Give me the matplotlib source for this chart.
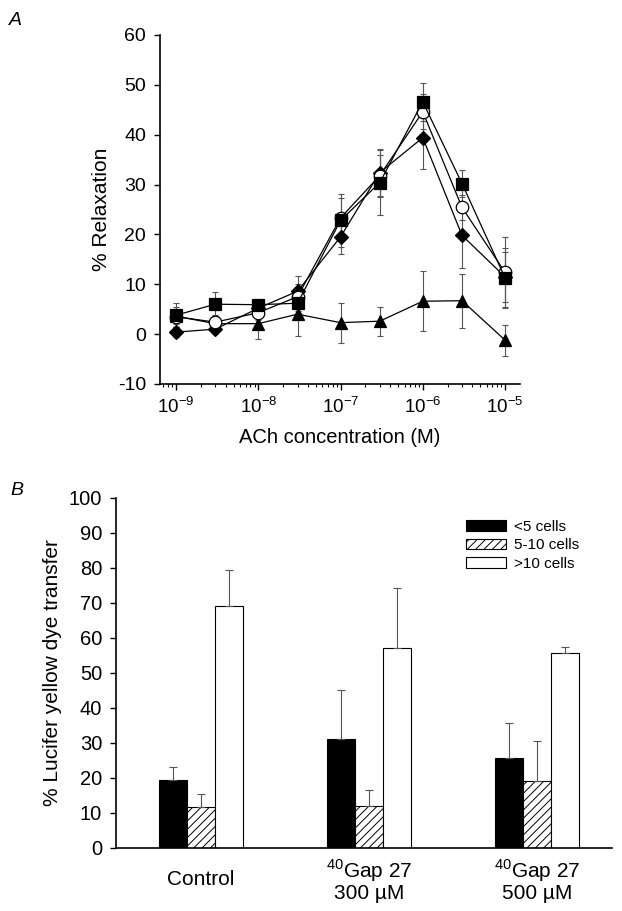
import numpy as np
import matplotlib
matplotlib.use("Agg")
import matplotlib.pyplot as plt
from matplotlib.ticker import LogLocator, MultipleLocator, NullFormatter

plt.rcParams['font.family'] = ['Liberation Sans', 'DejaVu Sans']
plt.rcParams['mathtext.fontset'] = 'custom'
plt.rcParams['mathtext.rm'] = 'Liberation Sans'
plt.rcParams['axes.unicode_minus'] = False
plt.rcParams['hatch.linewidth'] = 0.7

# panel A: ACh concentration-response
conc = np.array([1e-9, 3e-9, 1e-8, 3e-8, 1e-7, 3e-7, 1e-6, 3e-6, 1e-5])
sq_y = [3.8, 6.0, 5.9, 6.2, 22.8, 30.4, 46.6, 30.2, 11.3]
sq_e = [2.4, 2.4, 1.0, 1.5, 5.3, 6.5, 3.8, 2.7, 6.0]
ci_y = [3.5, 2.4, 4.3, 7.5, 23.3, 31.8, 44.6, 25.4, 12.4]
ci_e = [2.0, 1.5, 1.5, 2.5, 4.0, 4.2, 3.5, 2.5, 7.0]
di_y = [0.4, 1.0, 5.2, 8.6, 19.5, 32.4, 39.4, 19.8, 11.5]
di_e = [1.0, 1.0, 1.5, 3.0, 3.5, 4.7, 6.3, 6.6, 5.0]
tr_y = [3.6, 2.1, 2.1, 4.0, 2.3, 2.6, 6.6, 6.7, -1.2]
tr_e = [1.5, 1.5, 3.1, 4.4, 4.0, 2.9, 6.0, 5.4, 3.1]

# panel B: Lucifer yellow dye transfer
groups = ['Control', '$^{40}$Gap 27\n300 µM', '$^{40}$Gap 27\n500 µM']
lt5 = [19.4, 31.2, 25.6]
lt5_e = [3.6, 13.8, 10.2]
mid = [11.8, 12.1, 19.0]
mid_e = [3.5, 4.4, 11.7]
gt10 = [69.1, 57.1, 55.6]
gt10_e = [10.4, 17.2, 1.8]

fig = plt.figure(figsize=(6.22, 9.11), dpi=100)

axA = fig.add_axes([0.2572, 0.5785, 0.5788, 0.3831])
ebc = '#555555'
series = [(tr_y, tr_e, '^', 'black', 8.5),
          (di_y, di_e, 'D', 'black', 7),
          (ci_y, ci_e, 'o', 'white', 9),
          (sq_y, sq_e, 's', 'black', 8)]
for y, e, m, fc, ms in series:
    axA.errorbar(conc, y, yerr=e, fmt='none', ecolor=ebc, elinewidth=0.8,
                 capsize=2.5, capthick=0.8, zorder=2)
    axA.plot(conc, y, color='black', lw=0.9, marker=m, ms=ms,
             mfc=fc, mec='black', mew=0.9, zorder=3)

axA.set_xscale('log')
axA.set_xlim(10 ** -9.195, 10 ** -4.818)
axA.set_ylim(-10, 60)
axA.yaxis.set_major_locator(MultipleLocator(10))
axA.xaxis.set_major_locator(LogLocator(base=10, numticks=10))
axA.xaxis.set_minor_locator(LogLocator(base=10, subs=np.arange(2, 10), numticks=10))
axA.xaxis.set_minor_formatter(NullFormatter())
for s in ['top', 'right']:
    axA.spines[s].set_visible(False)
for s in ['left', 'bottom']:
    axA.spines[s].set_linewidth(1.2)
axA.tick_params(axis='both', which='major', direction='out', length=4, width=1)
axA.tick_params(axis='y', labelsize=14, pad=6)
axA.tick_params(axis='x', labelsize=13.5, pad=5)
axA.tick_params(axis='x', which='minor', direction='out', length=2.5, width=0.8)
axA.set_ylabel('% Relaxation', fontsize=15, labelpad=5)
axA.set_xlabel('ACh concentration (M)', fontsize=14.5, labelpad=8)
fig.text(0.014, 0.978, 'A', fontsize=14, style='italic', va='center')

axB = fig.add_axes([0.1865, 0.0692, 0.797, 0.3842])
pos = np.arange(len(groups))
w = 0.1667
ek = dict(ecolor=ebc, elinewidth=0.8, capsize=3, capthick=0.8)
lo = [0, 0, 0]
axB.bar(pos - w, lt5, w, color='black', edgecolor='black', lw=0.8,
        yerr=[lo, lt5_e], error_kw=ek, label='<5 cells')
axB.bar(pos, mid, w, color='white', edgecolor='black', lw=0.8, hatch='////',
        yerr=[lo, mid_e], error_kw=ek, label='5-10 cells')
axB.bar(pos + w, gt10, w, color='white', edgecolor='black', lw=0.8,
        yerr=[lo, gt10_e], error_kw=ek, label='>10 cells')

axB.set_xlim(-0.506, 2.446)
axB.set_ylim(0, 100)
axB.yaxis.set_major_locator(MultipleLocator(10))
axB.set_xticks(pos)
axB.set_xticklabels(groups, va='center', fontsize=15, linespacing=1.0)
axB.tick_params(axis='x', length=0, pad=23)
axB.tick_params(axis='y', direction='out', length=4, width=1, labelsize=14.5, pad=6)
for s in ['top', 'right']:
    axB.spines[s].set_visible(False)
for s in ['left', 'bottom']:
    axB.spines[s].set_linewidth(1.2)
axB.set_ylabel('% Lucifer yellow dye transfer', fontsize=15, labelpad=5)
axB.legend(loc='upper left', bbox_to_anchor=(0.694, 0.955), frameon=False,
           fontsize=11, handlelength=2.6, handleheight=0.7,
           labelspacing=0.3, handletextpad=0.5, borderaxespad=0)
fig.text(0.016, 0.462, 'B', fontsize=14, style='italic', va='center')

fig.savefig('out.png', dpi=100)
